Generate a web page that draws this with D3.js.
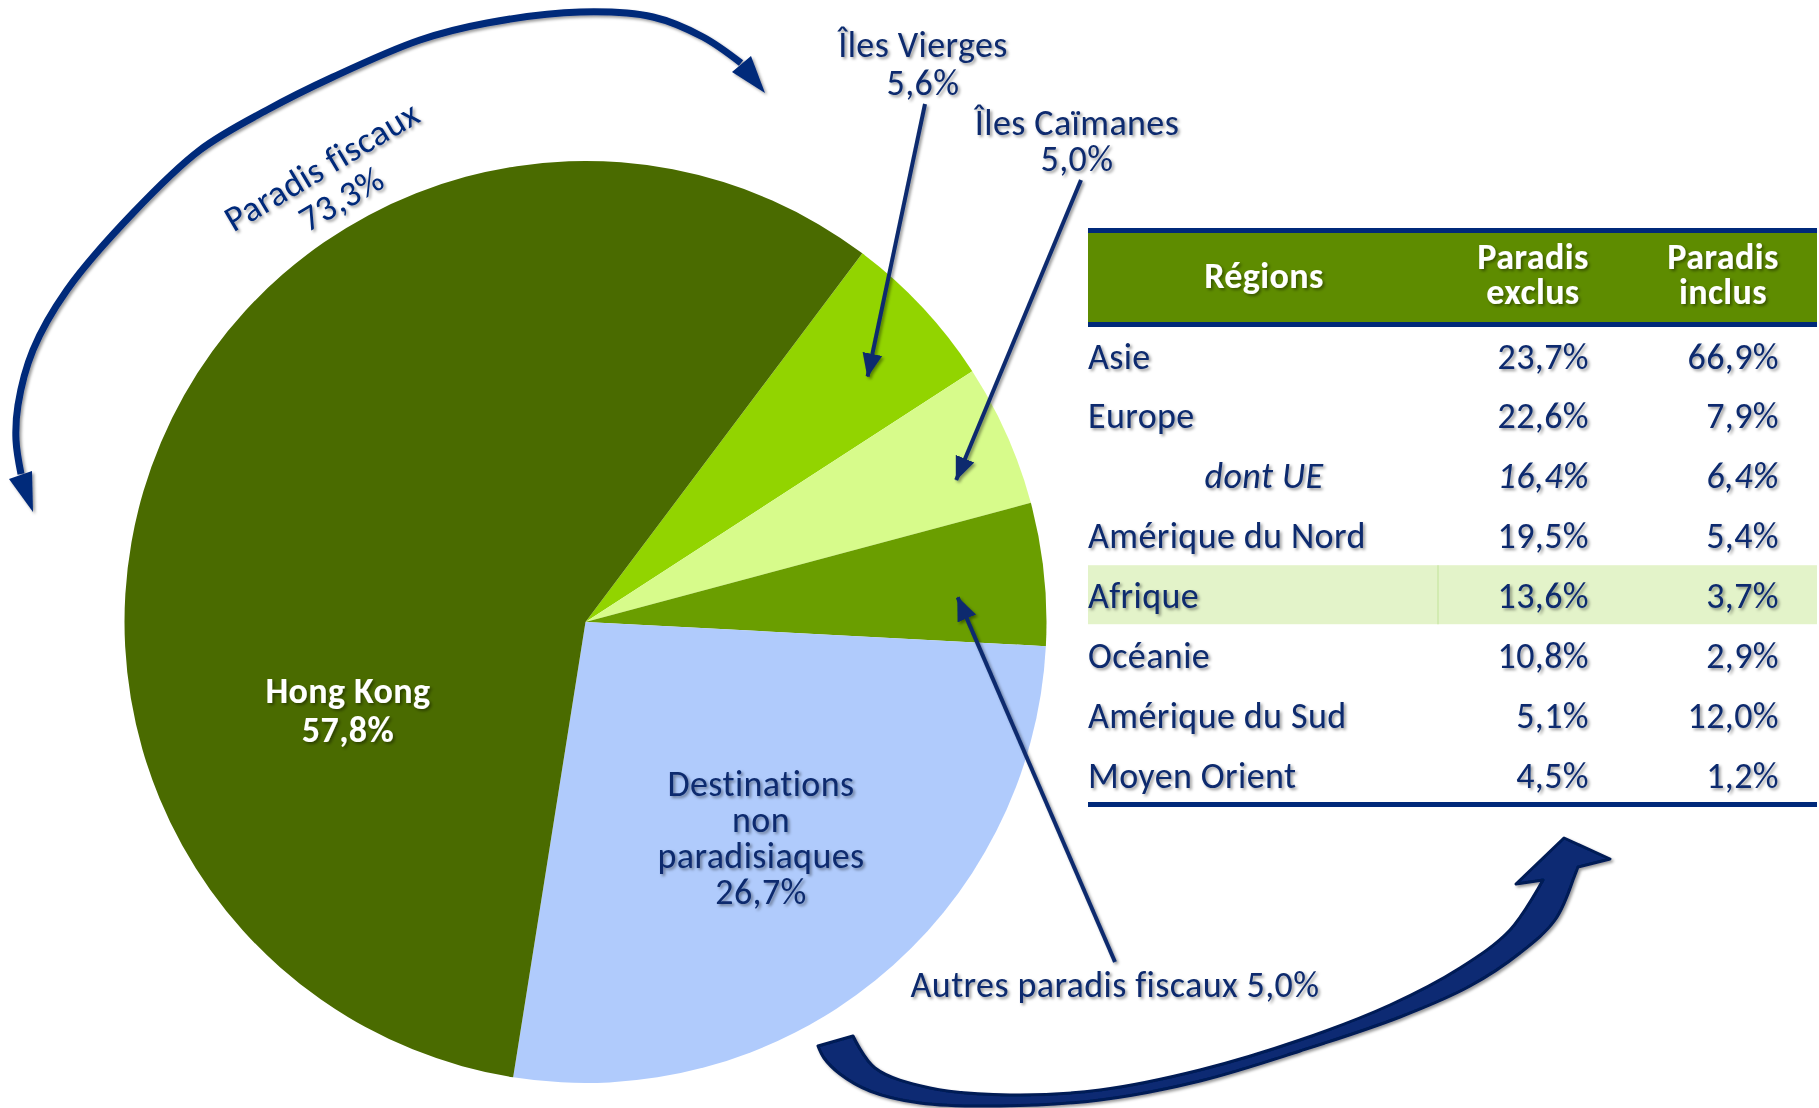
<!DOCTYPE html>
<html>
<head>
<meta charset="utf-8">
<script src="https://cdn.jsdelivr.net/npm/d3@7"></script>
<style>
  html, body { margin: 0; padding: 0; background: #fff; }
  svg { display: block; }
  text { font-family: Carlito, Lato, sans-serif; letter-spacing: 0.4px; }
</style>
</head>
<body>
<svg id="chart" width="1819" height="1108"></svg>
<script>
'use strict';

// ── Data ─────────────────────────────────────────────────────
const sliceNames  = [['Îles Vierges'], ['Îles Caïmanes'], ['Autres paradis fiscaux'],
                     ['Destinations', 'non', 'paradisiaques'], ['Hong Kong']];
const sliceValues = [5.6, 5.0, 5.0, 26.7, 57.8];
const paradisTotal = 73.3;

const regions   = ['Asie', 'Europe', 'dont UE', 'Amérique du Nord', 'Afrique',
                   'Océanie', 'Amérique du Sud', 'Moyen Orient'];
const parExclus = [23.7, 22.6, 16.4, 19.5, 13.6, 10.8, 5.1, 4.5];
const parInclus = [66.9, 7.9, 6.4, 5.4, 3.7, 2.9, 12.0, 1.2];
const headers   = [['Régions'], ['Paradis', 'exclus'], ['Paradis', 'inclus']];

// ── Style / layout ───────────────────────────────────────────
const NAVY   = '#0b2a6e';
const BLUE   = '#00297a';
const SLICE_COLOR = ['#92d400', '#d7fb8b', '#6a9e00', '#b0cbfc', '#4a6b00'];
const CX = 585.5, CY = 622, R = 461;
const START = 36.9 * Math.PI / 180;
const FS = 36;

// label anchor, line height, leader (radius, angle shift) for each slice
const LABEL = [
  { x: 923,  y: 57,  lh: 38, from: [925, 104],  lr: 374, da: 2.0 },
  { x: 1077, y: 135, lh: 36, from: [1081, 180], lr: 397, da: 3.0 },
  { x: 1115, y: 997, inline: true, from: [1115, 962], lr: 373, da: 2.2 },
  { x: 761,  y: 796, lh: 36 },
  { x: 348,  y: 703, lh: 39, fill: '#fff', bold: true },
];

const fr  = d3.formatLocale({ decimal: ',', thousands: ' ', grouping: [3], currency: ['', ' €'] });
const pct = v => fr.format('.1f')(v) + '%';

const svg = d3.select('#chart');
const defs = svg.append('defs');

defs.append('filter').attr('id', 'shadow')
  .attr('x', '-10%').attr('y', '-10%').attr('width', '130%').attr('height', '140%')
  .append('feDropShadow')
  .attr('dx', 2).attr('dy', 2).attr('stdDeviation', 1.5)
  .attr('flood-color', '#000').attr('flood-opacity', 0.4);

defs.append('marker').attr('id', 'head')
  .attr('markerUnits', 'userSpaceOnUse')
  .attr('viewBox', '0 -11 24 22')
  .attr('refX', 23).attr('refY', 0)
  .attr('markerWidth', 24).attr('markerHeight', 22)
  .attr('orient', 'auto')
  .append('path').attr('d', 'M0,-10L24,0L0,10Z').attr('fill', NAVY);

// ── Pie ──────────────────────────────────────────────────────
const pie = d3.pie().sort(null).value(d => d)
  .startAngle(START).endAngle(START + 2 * Math.PI);
const arcs = pie(sliceValues);
const arc = d3.arc().innerRadius(0).outerRadius(R);

const pieG = svg.append('g').attr('transform', `translate(${CX},${CY})`);
pieG.selectAll('path').data(arcs).join('path')
  .attr('d', arc)
  .attr('fill', (d, i) => SLICE_COLOR[i]);

// ── Slice labels & leaders ───────────────────────────────────
const labG = svg.append('g').attr('filter', 'url(#shadow)');

arcs.forEach((d, i) => {
  const L = LABEL[i];
  const t = labG.append('text')
    .attr('text-anchor', 'middle')
    .attr('font-size', FS)
    .attr('font-weight', L.bold ? 700 : 400)
    .attr('fill', L.fill || NAVY);
  const lines = L.inline
    ? [sliceNames[i].join(' ') + ' ' + pct(sliceValues[i])]
    : sliceNames[i].concat([pct(sliceValues[i])]);
  lines.forEach((s, k) => {
    t.append('tspan').attr('x', L.x).attr('y', L.y + k * (L.lh || 0)).text(s);
  });

  if (L.from) {
    const a = (d.startAngle + d.endAngle) / 2 + L.da * Math.PI / 180;
    const tip = [CX + L.lr * Math.sin(a), CY - L.lr * Math.cos(a)];
    labG.append('line')
      .attr('x1', L.from[0]).attr('y1', L.from[1])
      .attr('x2', tip[0]).attr('y2', tip[1])
      .attr('stroke', NAVY).attr('stroke-width', 4)
      .attr('marker-end', 'url(#head)');
  }
});

// ── "Paradis fiscaux" curved double arrow ────────────────────
const topArc = [[21, 474], [16, 440], [18, 405], [33, 350], [67, 290], [133, 213],
                [200, 150], [267, 110], [333, 77], [420, 40], [487, 23], [580, 12],
                [653, 17], [703, 37], [741, 63]];
const annG = svg.append('g').attr('filter', 'url(#shadow)');
annG.append('path')
  .attr('d', d3.line().curve(d3.curveCatmullRom.alpha(0.5))(topArc))
  .attr('fill', 'none').attr('stroke', BLUE).attr('stroke-width', 7);
annG.append('path').attr('d', 'M9,479L32,471L33,512Z').attr('fill', BLUE);
annG.append('path').attr('d', 'M732,72L751,56L765,93Z').attr('fill', BLUE);

const pf = annG.append('text')
  .attr('transform', 'translate(328,176.5) rotate(-30.7)')
  .attr('text-anchor', 'middle').attr('font-size', FS).attr('fill', BLUE);
pf.append('tspan').attr('x', 0).attr('y', 0).text('Paradis fiscaux');
pf.append('tspan').attr('x', 0).attr('y', 38).text(pct(paradisTotal));

// ── Bottom block arrow ───────────────────────────────────────
const upper = [[853, 1036], [875, 1068], [930, 1088], [1010, 1095], [1100, 1090],
               [1200, 1070], [1300, 1040], [1390, 1005], [1460, 968], [1510, 930],
               [1543, 880]];
const head  = [[1516, 884], [1564, 838], [1610, 859], [1578, 867]];
const lower = [[1573, 880], [1555, 920], [1520, 953], [1470, 986], [1400, 1017],
               [1300, 1051], [1200, 1081], [1100, 1100], [1000, 1106], [920, 1103],
               [870, 1091], [840, 1074], [824, 1058], [818, 1046]];
const cr = d3.line().curve(d3.curveCatmullRom.alpha(0.5));
const arrowD = cr(upper)
  + head.map(p => 'L' + p[0] + ',' + p[1]).join('')
  + 'L' + cr(lower).slice(1) + 'Z';
annG.append('path').attr('d', arrowD)
  .attr('fill', '#0a2a73').attr('stroke', '#001a55').attr('stroke-width', 3)
  .attr('stroke-linejoin', 'round');

// ── Table ────────────────────────────────────────────────────
const TX0 = 1088, TX1 = 1817;
const COL = { region: 1088, regionMid: 1264, exclus: 1589, inclus: 1779,
              hExclus: 1533, hInclus: 1723 };
const y = d3.scalePoint().domain(regions).range([368.5, 788]);

const tab = svg.append('g');
tab.append('rect').attr('x', TX0).attr('y', 233).attr('width', TX1 - TX0).attr('height', 89)
  .attr('fill', '#5e8c00');
tab.append('rect').attr('x', TX0).attr('y', y('Afrique') - 43).attr('width', TX1 - TX0)
  .attr('height', 59).attr('fill', '#e3f3c9');
tab.append('line').attr('x1', 1438).attr('x2', 1438)
  .attr('y1', y('Afrique') - 43).attr('y2', y('Afrique') + 16)
  .attr('stroke', '#cde8a8').attr('stroke-width', 1.5);
[230.5, 324.5, 804.5].forEach(yy => {
  tab.append('line').attr('x1', TX0).attr('x2', TX1).attr('y1', yy).attr('y2', yy)
    .attr('stroke', BLUE).attr('stroke-width', 5);
});

const txt = tab.append('g').attr('filter', 'url(#shadow)')
  .attr('font-size', FS);

const hx = [COL.regionMid, COL.hExclus, COL.hInclus];
headers.forEach((h, i) => {
  const t = txt.append('text').attr('text-anchor', 'middle')
    .attr('font-weight', 700).attr('fill', '#fff');
  const y0 = h.length === 1 ? 288 : 269;
  h.forEach((s, k) => t.append('tspan').attr('x', hx[i]).attr('y', y0 + k * 35).text(s));
});

const rowG = txt.selectAll('g.row').data(regions).join('g')
  .attr('class', 'row')
  .attr('fill', NAVY)
  .attr('font-style', d => d === 'dont UE' ? 'italic' : 'normal');

rowG.append('text')
  .attr('x', d => d === 'dont UE' ? COL.regionMid : COL.region)
  .attr('text-anchor', d => d === 'dont UE' ? 'middle' : 'start')
  .attr('y', d => y(d))
  .text(d => d);
rowG.append('text')
  .attr('x', COL.exclus).attr('text-anchor', 'end')
  .attr('y', d => y(d))
  .text((d, i) => pct(parExclus[i]));
rowG.append('text')
  .attr('x', COL.inclus).attr('text-anchor', 'end')
  .attr('y', d => y(d))
  .text((d, i) => pct(parInclus[i]));
</script>
</body>
</html>
